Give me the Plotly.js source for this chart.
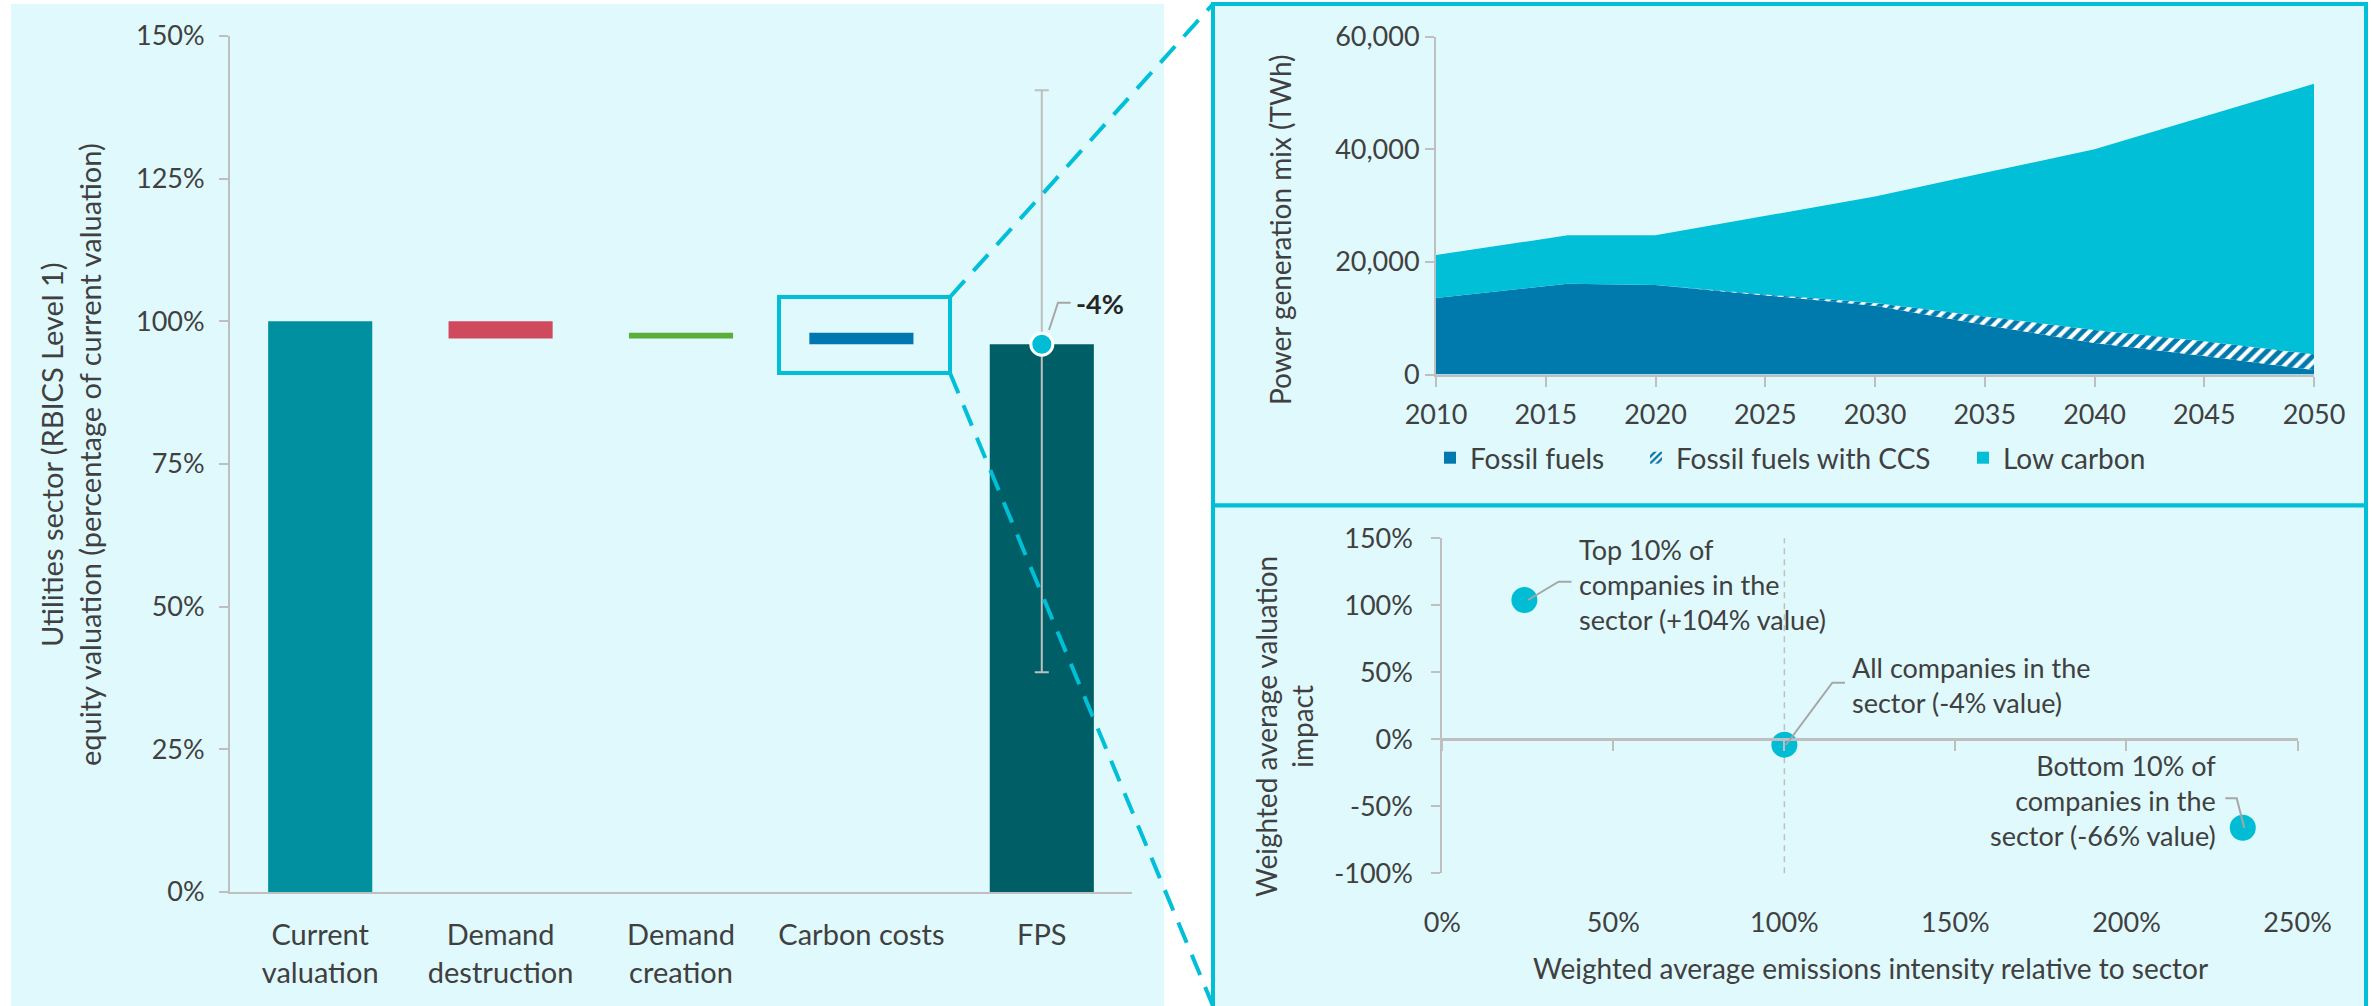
<!DOCTYPE html>
<html><head><meta charset="utf-8">
<script src="https://cdn.plot.ly/plotly-3.0.1.min.js"></script>
<style>html,body{margin:0;padding:0;background:#fff}#chart{width:2372px;height:1006px}</style>
</head><body><div id="chart"></div>
<script>
// ---------- Data: valuation bridge (left panel) ----------
const bridgeCategories = ['Current<br>valuation', 'Demand<br>destruction', 'Demand<br>creation', 'Carbon costs', 'FPS'];
const startValue = [100];
const bridgeSteps = [-3, 1, -2];          // demand destruction, demand creation, carbon costs
const fpsRangeLow = [38.5];
const fpsRangeHigh = [140.5];
const bridgeColors = ['#00909F', '#D04A5E', '#5BAE3A', '#0077B0', '#005F66'];
const leftTicks = [0, 25, 50, 75, 100, 125, 150];

// ---------- Data: power generation mix (top right) ----------
const years = [2010, 2016, 2020, 2025, 2030, 2035, 2040, 2045, 2050];
const fossil = [13600, 16100, 15900, 14000, 12200, 8800, 5600, 3300, 800];
const fossilCCS = [0, 0, 0, 200, 500, 1500, 2300, 2600, 2800];
const lowCarbon = [7600, 8600, 8800, 13900, 18900, 25500, 32100, 39900, 48000];
const mixNames = ['Fossil fuels', 'Fossil fuels with CCS', 'Low carbon'];
const mixColors = ['#0079AD', '#0079AD', '#00BFD6'];

// ---------- Data: emissions intensity vs valuation impact (bottom right) ----------
const groupIntensity = [24, 100, 234];
const groupImpact = [104, -4, -66];
const groupLabels = [
  'Top 10% of<br>companies in the<br>sector (+104% value)',
  'All companies in the<br>sector (-4% value)',
  'Bottom 10% of<br>companies in the<br>sector (-66% value)'
];
const sectorAverageIntensity = [100];
const impactTicks = [-100, -50, 0, 50, 100, 150];
const intensityTicks = [0, 50, 100, 150, 200, 250];

// ---------- helpers ----------
const W = 2372, H = 1006;
const px = x => x / W;
const py = y => 1 - y / H;
const FONT = 'Lato, Carlito, "Open Sans", sans-serif';
const TXT = '#404040';
const AXC = '#BFBFBF';
const CYAN = '#00BFD6';
const PANEL = '#DFF9FD';

// build waterfall bases from the steps
let running = startValue[0];
const barBase = [0], barHeight = [running];
bridgeSteps.forEach(s => {
  const next = running + s;
  barBase.push(Math.min(running, next));
  barHeight.push(Math.abs(s));
  running = next;
});
const fpsValue = running;
barBase.push(0); barHeight.push(fpsValue);
const fpsChange = fpsValue - startValue[0];

const traces = [];
traces.push({
  type: 'bar', x: bridgeCategories, y: barHeight, base: barBase,
  marker: {color: bridgeColors}, width: 0.577, xaxis: 'x', yaxis: 'y',
  showlegend: false, hoverinfo: 'skip'
});
traces.push({
  type: 'scatter', mode: 'markers', x: [bridgeCategories[4]], y: [fpsValue],
  xaxis: 'x', yaxis: 'y', showlegend: false,
  error_y: {type: 'data', symmetric: false, array: [fpsRangeHigh[0] - fpsValue],
            arrayminus: [fpsValue - fpsRangeLow[0]], color: AXC, thickness: 2, width: 7},
  marker: {size: 22, color: '#00BCD4', line: {color: '#FFFFFF', width: 3}}
});

// stacked areas
const mixSeries = [fossil, fossilCCS, lowCarbon];
mixSeries.forEach((s, i) => {
  const t = {
    type: 'scatter', mode: 'lines', x: years, y: s, stackgroup: 'mix',
    line: {width: 0}, fillcolor: mixColors[i], xaxis: 'x2', yaxis: 'y2',
    name: mixNames[i], showlegend: false
  };
  if (i === 1) {
    t.fillpattern = {shape: '/', bgcolor: '#FFFFFF', fgcolor: mixColors[i], size: 9, solidity: 0.55, fillmode: 'replace'};
  }
  traces.push(t);
});
// legend entries (square swatches)
const legendIds = ['legend', 'legend2', 'legend3'];
mixNames.forEach((n, i) => {
  const m = {color: mixColors[i]};
  if (i === 1) m.pattern = {shape: '/', bgcolor: '#FFFFFF', fgcolor: mixColors[i], size: 6, solidity: 0.5};
  traces.push({type: 'bar', x: [null], y: [null], xaxis: 'x2', yaxis: 'y2', name: n,
               marker: m, showlegend: true, legend: legendIds[i]});
});

// scatter of company groups
traces.push({
  type: 'scatter', mode: 'markers', x: groupIntensity, y: groupImpact,
  xaxis: 'x3', yaxis: 'y3', showlegend: false,
  marker: {size: 26, color: '#00BCD4'}
});

const tickFont = {family: FONT, size: 27, color: TXT};
const catFont = {family: FONT, size: 29, color: TXT};

const shapes = [
  // panel backgrounds
  {type: 'rect', xref: 'paper', yref: 'paper', x0: px(11), x1: px(1164), y0: py(4), y1: py(1012),
   fillcolor: PANEL, line: {width: 0}, layer: 'below'},
  {type: 'rect', xref: 'paper', yref: 'paper', x0: px(1213), x1: px(2366), y0: py(4), y1: py(505.5),
   fillcolor: PANEL, line: {color: CYAN, width: 4}, layer: 'below'},
  {type: 'rect', xref: 'paper', yref: 'paper', x0: px(1213), x1: px(2366), y0: py(505.5), y1: py(1014),
   fillcolor: PANEL, line: {color: CYAN, width: 4}, layer: 'below'},
  // highlight box around carbon costs
  {type: 'rect', xref: 'paper', yref: 'paper', x0: px(779), x1: px(950), y0: py(297), y1: py(373),
   line: {color: CYAN, width: 4}},
  // zoom connectors
  {type: 'line', xref: 'paper', yref: 'paper', x0: px(950), y0: py(297), x1: px(1213), y1: py(4),
   line: {color: CYAN, width: 4, dash: '22px,13px'}},
  {type: 'line', xref: 'paper', yref: 'paper', x0: px(950), y0: py(373), x1: px(1213), y1: py(1006),
   line: {color: CYAN, width: 4, dash: '22px,13px'}},
  // sector average reference line
  {type: 'line', xref: 'x3', yref: 'y3 domain', x0: sectorAverageIntensity[0], x1: sectorAverageIntensity[0], y0: 0, y1: 1,
   line: {color: AXC, width: 1.5, dash: '6px,5px'}, layer: 'below'}
];
// leader lines
const leader = pts => ({type: 'path', xref: 'paper', yref: 'paper',
  path: 'M' + pts.map(p => px(p[0]) + ',' + py(p[1])).join(' L'),
  line: {color: '#A6A6A6', width: 2}});
shapes.push(leader([[1049, 330], [1058, 302.7], [1070.7, 302.7]]));
shapes.push(leader([[1528, 600], [1558.6, 581.7], [1571.5, 581.7]]));
shapes.push(leader([[1786, 745], [1832.3, 682.7], [1845, 682.7]]));
shapes.push(leader([[2225.3, 798.3], [2236.7, 798.3], [2244.3, 828]]));

const ann = (text, x, y, opts) => Object.assign({
  text: text, xref: 'paper', yref: 'paper', x: px(x), y: py(y), showarrow: false,
  xanchor: 'center', yanchor: 'middle',
  font: {family: FONT, size: 28, color: TXT}
}, opts || {});

const annotations = [
  ann('<b>' + fpsChange + '%</b>', 1074, 303, {xanchor: 'left', font: {family: FONT, size: 27, color: '#262626'}}),
  ann('Utilities sector (RBICS Level 1)<br>equity valuation (percentage of current valuation)', 70, 455, {textangle: -90, font: {family: FONT, size: 29, color: TXT}}),
  ann('Power generation mix (TWh)', 1280, 230, {textangle: -90}),
  ann('Weighted average valuation<br>impact', 1284, 727, {textangle: -90}),
  ann('Weighted average emissions intensity relative to sector', 1870, 968, {}),
  ann(groupLabels[0], 1577, 584, {xanchor: 'left', align: 'left', font: {family: FONT, size: 27, color: TXT}}),
  ann(groupLabels[1], 1850, 685, {xanchor: 'left', align: 'left', font: {family: FONT, size: 27, color: TXT}}),
  ann(groupLabels[2], 2218, 800.5, {xanchor: 'right', align: 'right', font: {family: FONT, size: 27, color: TXT}})
];

const legendBase = {orientation: 'h', xanchor: 'left', yanchor: 'middle', y: py(458),
  bgcolor: 'rgba(0,0,0,0)', font: {family: FONT, size: 28, color: TXT}, itemclick: false, itemdoubleclick: false};

const layout = {
  width: W, height: H, margin: {l: 0, r: 0, t: 0, b: 0},
  paper_bgcolor: '#FFFFFF', plot_bgcolor: 'rgba(0,0,0,0)',
  font: {family: FONT, color: TXT},
  showlegend: true,
  legend: Object.assign({}, legendBase, {x: px(1430)}),
  legend2: Object.assign({}, legendBase, {x: px(1636)}),
  legend3: Object.assign({}, legendBase, {x: px(1963)}),
  xaxis: {domain: [px(230), px(1132)], anchor: 'y', type: 'category', range: [-0.5, 4.5],
          showline: true, linecolor: AXC, linewidth: 2, ticks: '', showgrid: false, zeroline: false,
          tickfont: catFont, ticklabelstandoff: 16, fixedrange: true},
  yaxis: {domain: [py(892), py(36)], anchor: 'x', range: [0, 150], tickmode: 'array',
          tickvals: leftTicks, ticktext: leftTicks.map(v => v + '%'),
          showline: true, linecolor: AXC, linewidth: 2, ticks: 'outside', ticklen: 9, tickwidth: 2, tickcolor: AXC,
          showgrid: false, zeroline: false, tickfont: tickFont, ticklabelstandoff: 9, fixedrange: true},
  xaxis2: {domain: [px(1436), px(2314)], anchor: 'y2', range: [2010, 2050], tick0: 2010, dtick: 5,
           showline: true, linecolor: AXC, linewidth: 2, ticks: 'outside', ticklen: 10, tickwidth: 2, tickcolor: AXC,
           showgrid: false, zeroline: false, tickfont: tickFont, ticklabelstandoff: 5, fixedrange: true},
  yaxis2: {domain: [py(374.5), py(36.5)], anchor: 'x2', range: [0, 60000], dtick: 20000, tickformat: ',d',
           showline: true, linecolor: AXC, linewidth: 2, ticks: 'outside', ticklen: 9, tickwidth: 2, tickcolor: AXC,
           showgrid: false, zeroline: false, tickfont: tickFont, fixedrange: true},
  // horizontal axis crosses at 0% impact; its labels sit low, below the plot
  xaxis3: {domain: [px(1442.3), px(2297.5)], anchor: 'free', position: py(739.3), side: 'bottom',
           range: [0, 250], tickmode: 'array',
           tickvals: intensityTicks, ticktext: intensityTicks.map(v => v + '%'),
           showline: true, linecolor: AXC, linewidth: 3, ticks: 'outside', ticklen: 10, tickwidth: 2, tickcolor: AXC,
           showgrid: false, zeroline: false, tickfont: tickFont,
           ticklabelstandoff: 148, fixedrange: true},
  yaxis3: {domain: [py(873.3), py(538.3)], anchor: 'x3', range: [-100, 150], tickmode: 'array',
           tickvals: impactTicks, ticktext: impactTicks.map(v => v + '%'),
           showline: true, linecolor: AXC, linewidth: 2, ticks: 'outside', ticklen: 9, tickwidth: 2, tickcolor: AXC,
           showgrid: false, zeroline: false,
           tickfont: tickFont, ticklabelstandoff: 13, fixedrange: true},
  shapes: shapes,
  annotations: annotations
};

Plotly.newPlot('chart', traces, layout, {displayModeBar: false, staticPlot: true});
</script>
</body></html>
